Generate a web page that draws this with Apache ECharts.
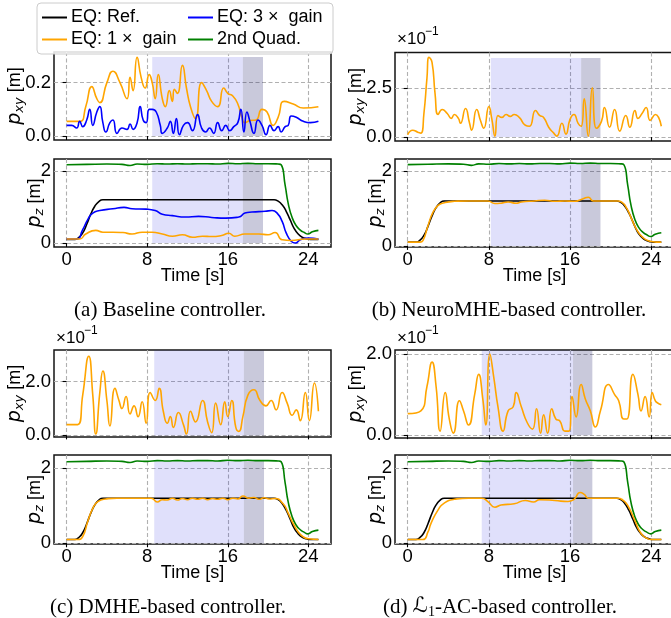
<!DOCTYPE html>
<html><head><meta charset="utf-8">
<script src="https://cdn.jsdelivr.net/npm/echarts@6/dist/echarts.min.js"></script>
<style>html,body{margin:0;padding:0;background:#fff}#c{width:671px;height:618px}</style>
</head><body><div id="c"></div><script>
// ---------- data ----------
const X_TICKS = [0, 8, 16, 24];
const Z_TICKS = [0, 2];
const XY_TICKS_A = [0, 0.2];
const XY_TICKS_B = [0, 2.5];
const XY_TICKS_C = [0, 2];
const XY_TICKS_D = [0, 2];

const T_REF = [0, 0.8, 1.2, 1.6, 2.0, 2.4, 2.8, 3.2, 3.6, 4.0, 20.6, 21.0, 21.4, 21.8, 22.2, 22.6, 23.0, 23.4, 23.8, 24.2, 25];
const V_REF = [0.1, 0.1, 0.15, 0.28, 0.52, 0.8, 1.02, 1.15, 1.2, 1.2, 1.2, 1.16, 1.06, 0.88, 0.64, 0.4, 0.25, 0.16, 0.12, 0.1, 0.1];

const T_GREEN = [0, 2, 4, 5.5, 6.3, 7, 8, 9, 10, 11, 12, 13, 14, 15, 16, 17, 18, 19, 20, 21, 21.3, 21.7, 22.0, 22.4, 22.8, 23.2, 23.6, 23.95, 24.4, 25];
const V_GREEN = [2.17, 2.18, 2.19, 2.18, 2.15, 2.19, 2.18, 2.2, 2.19, 2.2, 2.19, 2.2, 2.2, 2.19, 2.21, 2.2, 2.21, 2.2, 2.2, 2.19, 2.17, 1.6, 1.1, 0.7, 0.48, 0.36, 0.29, 0.25, 0.31, 0.35];

// (a) baseline
const T_A_XY_1X = [0, 1.3, 1.9, 2.5, 3.0, 3.3, 4.0, 4.6, 5.3, 6.0, 6.3, 6.6, 7.0, 7.4, 7.8, 8.2, 8.5, 8.8, 9.1, 9.5, 9.8, 10.2, 10.5, 10.7, 11.0, 11.5, 11.9, 12.3, 12.8, 13.4, 13.9, 14.4, 15.0, 15.6, 16.0, 16.5, 17.0, 17.4, 17.7, 18.2, 18.8, 19.4, 19.9, 20.5, 21.0, 21.6, 22.5, 23.5, 25];
const V_A_XY_1X = [0.055, 0.055, 0.11, 0.185, 0.14, 0.125, 0.2, 0.243, 0.2, 0.14, 0.22, 0.17, 0.295, 0.22, 0.18, 0.23, 0.2, 0.14, 0.23, 0.14, 0.11, 0.17, 0.13, 0.175, 0.16, 0.265, 0.18, 0.11, 0.065, 0.2, 0.17, 0.13, 0.11, 0.18, 0.16, 0.15, 0.12, 0.07, 0.05, 0.058, 0.06, 0.1, 0.09, 0.04, 0.07, 0.13, 0.12, 0.105, 0.11];
const T_A_XY_3X = [0, 0.5, 1.0, 1.3, 1.6, 2.0, 2.3, 2.6, 3.0, 3.3, 3.6, 3.9, 4.3, 4.6, 5.0, 5.5, 6.0, 6.3, 6.6, 7.0, 7.3, 7.6, 7.9, 8.2, 8.5, 8.9, 9.3, 9.5, 10.0, 10.3, 10.6, 10.9, 11.2, 11.6, 12.0, 12.5, 13.0, 13.4, 13.8, 14.2, 14.6, 15.0, 15.4, 15.8, 16.2, 16.6, 17.0, 17.3, 17.6, 17.9, 18.2, 18.6, 19.0, 19.4, 19.8, 20.2, 20.6, 21.0, 21.3, 21.7, 22.0, 22.3, 22.8, 23.5, 24.2, 25];
const V_A_XY_3X = [0.04, 0.04, 0.03, 0.055, 0.035, 0.06, 0.1, 0.04, 0.09, 0.11, 0.05, 0.015, 0.05, 0.06, 0.01, 0.03, 0.025, 0.045, 0.025, 0.05, 0.11, 0.06, 0.05, 0.1, 0.1, 0.09, 0.04, 0.01, 0.03, 0.055, 0.01, 0.065, 0.005, 0.04, 0.05, 0.02, 0.08, 0.03, 0.015, 0.03, 0.01, 0.05, 0.02, 0.04, 0.02, 0.035, 0.05, 0.1, 0.015, 0.09, 0.055, 0.01, 0.06, 0.04, 0.005, 0.04, 0.02, 0.035, 0.015, 0.035, 0.04, 0.075, 0.07, 0.055, 0.05, 0.055];
const T_A_Z_1X = [0, 1.3, 1.9, 2.9, 3.6, 4.6, 5.6, 6.5, 7.5, 8.5, 9.5, 10.5, 11.5, 12.5, 13.5, 14.4, 15.4, 16.1, 16.7, 17.7, 19.1, 20.0, 20.7, 21.4, 22.3, 23.7, 25];
const V_A_Z_1X = [0.11, 0.11, 0.25, 0.35, 0.3, 0.3, 0.29, 0.25, 0.3, 0.3, 0.25, 0.19, 0.23, 0.16, 0.19, 0.18, 0.21, 0.27, 0.19, 0.25, 0.25, 0.23, 0.29, 0.09, 0.07, 0.11, 0.11];
const T_A_Z_3X = [0, 1.0, 1.6, 2.1, 2.6, 3.3, 4.6, 5.7, 6.5, 7.9, 8.8, 9.5, 10.5, 11.8, 13.1, 14.4, 15.8, 17.1, 17.7, 18.4, 19.7, 20.4, 20.9, 21.4, 21.8, 22.3, 22.7, 23.2, 24.0, 25];
const V_A_Z_3X = [0.11, 0.11, 0.37, 0.65, 0.83, 0.9, 0.95, 0.99, 0.95, 0.94, 0.9, 0.8, 0.76, 0.72, 0.74, 0.71, 0.69, 0.72, 0.83, 0.86, 0.88, 0.9, 0.83, 0.6, 0.28, 0.05, 0.0, 0.09, 0.14, 0.11];

// (b) NeuroMHE (pxy in 1e-1 m)
const T_B_XY = [0, 0.5, 1.0, 1.3, 1.6, 1.9, 2.1, 2.4, 2.7, 3.0, 3.4, 3.9, 4.3, 4.6, 5.0, 5.2, 5.7, 6.1, 6.3, 6.8, 7.2, 7.5, 8.0, 8.3, 8.6, 8.9, 9.3, 9.7, 10.1, 10.5, 11.0, 11.6, 12.0, 12.6, 13.0, 13.4, 13.9, 14.4, 14.7, 15.2, 15.6, 16.0, 16.4, 16.8, 17.1, 17.4, 17.8, 18.2, 18.6, 19.1, 19.4, 19.9, 20.4, 20.9, 21.5, 21.9, 22.4, 22.7, 23.1, 23.5, 23.9, 24.4, 25];
const V_B_XY = [0.12, 0.35, 0.25, 0.2, 1.2, 3.0, 4.05, 3.8, 2.2, 1.15, 1.4, 1.2, 0.95, 1.15, 0.95, 0.7, 1.45, 0.7, 0.35, 1.4, 0.8, 0.45, 1.55, 0.9, 0.05, 1.1, 1.0, 1.15, 1.05, 1.15, 1.0, 0.6, 0.55, 1.35, 1.1, 1.0, 0.5, 0.2, 0.05, 0.7, 0.15, 0.9, 1.15, 0.7, 0.55, 1.95, 0.05, 2.5, 0.45, 0.8, 1.5, 0.5, 1.4, 0.3, 1.1, 0.5, 1.35, 0.95, 1.2, 1.5, 0.85, 1.15, 0.55];
const T_B_Z = [0, 1.2, 1.5, 2.0, 2.5, 3.0, 3.6, 4.6, 6, 7.9, 8.6, 9.2, 9.9, 10.7, 11.2, 12.5, 13.5, 14.5, 15.5, 16.4, 17.3, 17.8, 18.3, 19, 20.7, 21.1, 21.6, 22.1, 22.6, 23.2, 23.8, 24.5, 25];
const V_B_Z = [0.1, 0.1, 0.14, 0.54, 0.9, 1.08, 1.15, 1.19, 1.2, 1.2, 1.13, 1.14, 1.17, 1.14, 1.17, 1.2, 1.22, 1.19, 1.2, 1.19, 1.26, 1.3, 1.2, 1.2, 1.2, 1.17, 1.0, 0.7, 0.42, 0.22, 0.13, 0.1, 0.1];

// (c) DMHE (pxy in 1e-1 m)
const T_C_XY = [0, 1.1, 1.6, 2.2, 2.6, 2.9, 3.3, 3.6, 4.0, 4.3, 4.8, 5.2, 5.5, 5.9, 6.3, 6.7, 7.1, 7.5, 7.9, 8.3, 8.8, 9.2, 9.6, 10.0, 10.3, 10.6, 11.1, 11.6, 11.9, 12.3, 12.8, 13.5, 14.0, 14.4, 14.8, 15.3, 15.7, 16.0, 16.4, 16.8, 17.1, 17.5, 18.0, 18.6, 19.2, 19.8, 20.3, 20.8, 21.4, 21.9, 22.4, 22.8, 23.2, 23.7, 24.1, 24.6, 25];
const V_C_XY = [0.4, 0.4, 1.5, 2.95, 1.5, 0.05, 1.6, 2.4, 1.3, 0.35, 1.75, 1.3, 1.0, 1.45, 0.8, 1.1, 0.7, 1.25, 0.45, 1.6, 1.3, 1.75, 0.9, 0.45, 0.7, 0.3, 0.85, 0.4, 0.05, 0.9, 0.5, 1.3, 0.5, 0.1, 1.2, 0.4, 1.25, 0.7, 1.3, 0.3, 0.15, 0.7, 1.5, 1.7, 1.3, 1.1, 1.3, 0.95, 1.6, 1.2, 0.75, 0.95, 0.55, 1.6, 0.55, 1.95, 0.9];
const T_C_Z = [0, 1.1, 1.6, 2.1, 2.6, 3.1, 3.9, 5, 8.4, 9.0, 9.5, 10.0, 10.5, 11, 11.5, 12, 12.5, 13, 13.5, 14, 14.5, 15, 15.5, 16, 16.5, 17, 17.5, 18.1, 18.6, 19.1, 19.6, 20.1, 20.7, 21.5, 22.0, 22.5, 23.0, 23.5, 24, 25];
const V_C_Z = [0.1, 0.1, 0.18, 0.58, 0.93, 1.11, 1.18, 1.2, 1.2, 1.1, 1.16, 1.15, 1.2, 1.15, 1.19, 1.16, 1.2, 1.17, 1.2, 1.16, 1.19, 1.17, 1.2, 1.16, 1.2, 1.18, 1.26, 1.2, 1.22, 1.17, 1.21, 1.18, 1.19, 1.05, 0.8, 0.52, 0.3, 0.17, 0.12, 0.1];

// (d) L1-AC (pxy in 1e-1 m)
const T_D_XY = [0, 1.3, 1.9, 2.4, 2.8, 3.2, 3.7, 4.1, 4.5, 5.1, 5.5, 6.0, 6.6, 7.0, 7.4, 7.7, 8.1, 8.5, 8.9, 9.4, 9.9, 10.4, 10.7, 11.2, 11.8, 12.3, 12.7, 13.1, 13.4, 13.8, 14.2, 14.6, 15.0, 15.5, 15.9, 16.2, 16.6, 17.1, 17.5, 18.0, 18.5, 19.0, 19.8, 20.4, 20.8, 21.3, 21.6, 22.2, 22.7, 23.0, 23.4, 23.8, 24.1, 24.4, 24.6, 25];
const V_D_XY = [0.53, 0.6, 1.2, 1.8, 1.2, 0.1, 1.05, 0.4, 0.05, 0.85, 0.6, 0.25, 1.0, 1.5, 0.9, 0.25, 2.0, 1.4, 0.7, 0.1, 0.6, 0.7, 1.05, 0.7, 0.3, 0.15, 0.65, 0.05, 0.5, 0.05, 0.65, 0.4, 0.35, 0.1, 0.1, 0.95, 0.45, 1.25, 0.9, 0.6, 0.2, 0.6, 1.25, 1.0, 0.85, 0.4, 0.4, 1.5, 1.0, 0.6, 0.95, 0.45, 1.05, 0.85, 0.8, 0.75];
const T_D_Z = [0, 1.5, 2.0, 2.3, 3.0, 3.6, 4.6, 6, 7.3, 7.9, 8.6, 9.2, 10.5, 11.6, 12.4, 13.0, 14.5, 15.8, 16.4, 17.0, 17.4, 17.8, 18.5, 20.7, 21.2, 21.7, 22.4, 22.8, 23.2, 23.6, 24, 25];
const V_D_Z = [0.1, 0.1, 0.3, 0.53, 0.89, 1.07, 1.17, 1.2, 1.2, 1.11, 0.96, 1.02, 1.05, 1.14, 1.1, 1.16, 1.14, 1.11, 1.17, 1.35, 1.3, 1.2, 1.2, 1.2, 1.15, 1.0, 0.6, 0.35, 0.2, 0.13, 0.1, 0.1];

// disturbance windows [light start, dark start, dark end] (s)
const WIN_A = [8.5, 17.5, 19.5];
const WIN_B = [8.2, 17.1, 19.0];
const WIN_C = [8.7, 17.6, 19.6];
const WIN_D = [7.3, 16.3, 18.2];

const NAME_REF = 'EQ: Ref.';
const NAME_1X = 'EQ: 1 \u00d7  gain';
const NAME_3X = 'EQ: 3 \u00d7  gain';
const NAME_2Q = '2nd Quad.';

// ---------- chart ----------
const FONT = 'Liberation Sans';
const C_OR = '#FFA500', C_BL = '#0000FF', C_GR = '#008000', C_BK = '#000000';
const zip = (t, v) => t.map((x, i) => [x, v[i]]);

const grids = [
  {left: 54, top: 52, width: 277, height: 88},
  {left: 54, top: 159, width: 277, height: 88},
  {left: 395, top: 52.5, width: 279, height: 88.5},
  {left: 395, top: 159, width: 279, height: 88},
  {left: 54, top: 350, width: 277, height: 87},
  {left: 54, top: 455, width: 277, height: 89},
  {left: 395, top: 350, width: 279, height: 88},
  {left: 395, top: 455, width: 279, height: 89}
].map(g => Object.assign({show: true, borderColor: '#151515', borderWidth: 1.5, backgroundColor: 'transparent', containLabel: false, outerBoundsMode: 'none'}, g));

const panels = [
  {ymin: -0.015, ymax: 0.315, ticks: XY_TICKS_A, dec: 1, z: false, win: WIN_A, shadeTop: 0.296},
  {ymin: -0.11, ymax: 2.33, ticks: Z_TICKS, dec: 0, z: true, win: WIN_A, shadeTop: 2.2},
  {ymin: -0.2, ymax: 4.3, ticks: XY_TICKS_B, dec: 1, z: false, win: WIN_B, shadeTop: 4.02},
  {ymin: -0.03, ymax: 2.32, ticks: Z_TICKS, dec: 0, z: true, win: WIN_B, shadeTop: 2.2},
  {ymin: -0.06, ymax: 3.18, ticks: XY_TICKS_C, dec: 1, z: false, win: WIN_C, shadeTop: 3.16},
  {ymin: -0.02, ymax: 2.35, ticks: Z_TICKS, dec: 0, z: true, win: WIN_C, shadeTop: 2.2},
  {ymin: -0.07, ymax: 2.1, ticks: XY_TICKS_D, dec: 1, z: false, win: WIN_D, shadeTop: 2.09},
  {ymin: -0.02, ymax: 2.35, ticks: Z_TICKS, dec: 0, z: true, win: WIN_D, shadeTop: 2.2}
];

const gridLine = {show: true, lineStyle: {color: '#b0b0b0', type: [4, 2.5], width: 1.1}};
const tickStyle = {show: true, length: 4, inside: false, lineStyle: {color: '#000', width: 1.1}};
const labelStyle = {color: '#000', fontSize: 18.5, fontFamily: FONT};

const xAxes = panels.map((p, i) => ({
  type: 'value', gridIndex: i, min: -1.25, max: 26.25,
  axisLine: {show: false},
  axisTick: Object.assign({customValues: X_TICKS}, tickStyle),
  axisLabel: Object.assign({show: p.z, customValues: X_TICKS, margin: 3}, labelStyle),
  splitLine: gridLine,
  name: p.z ? 'Time [s]' : '', nameLocation: 'middle', nameGap: 20.5, nameMoveOverlap: false,
  nameTextStyle: {color: '#000', fontSize: 18, fontFamily: FONT}
}));

const yAxes = panels.map((p, i) => ({
  type: 'value', gridIndex: i, min: p.ymin, max: p.ymax,
  axisLine: {show: false},
  axisTick: Object.assign({customValues: p.ticks}, tickStyle),
  axisLabel: Object.assign({customValues: p.ticks, margin: 3, formatter: v => v.toFixed(p.dec)}, labelStyle),
  splitLine: gridLine,
  name: p.z ? '{p|p}{s|z}{n| [m]}' : '{p|p}{s|xy}{n| [m]}',
  nameLocation: 'middle', nameRotate: 90, nameGap: p.z ? 8 : 28, nameMoveOverlap: false,
  nameTextStyle: {
    color: '#000', fontSize: 18, fontFamily: FONT,
    rich: {
      p: {fontSize: 19, fontStyle: 'italic', fontFamily: 'DejaVu Sans', lineHeight: 22, color: '#000'},
      s: {fontSize: 13, fontStyle: 'italic', fontFamily: 'DejaVu Sans', lineHeight: 12, verticalAlign: 'bottom', color: '#000'},
      n: {fontSize: 18, fontFamily: FONT, lineHeight: 22, color: '#000'}
    }
  }
}));

function line(name, color, t, v, gi, z) {
  return {
    type: 'line', name: name, xAxisIndex: gi, yAxisIndex: gi, data: zip(t, v),
    showSymbol: false, symbol: 'none', smooth: 0.55, z: z || 3,
    lineStyle: {color: color, width: 1.6}, itemStyle: {color: color},
    emphasis: {disabled: true}, animation: false
  };
}
function shade(gi) {
  const p = panels[gi], w = p.win;
  return {
    type: 'line', xAxisIndex: gi, yAxisIndex: gi, data: [], silent: true, z: 1, animation: false,
    markArea: {
      silent: true, animation: false,
      data: [
        [{xAxis: w[0], yAxis: 0, itemStyle: {color: 'rgba(0,0,220,0.12)', borderWidth: 0}}, {xAxis: w[1], yAxis: p.shadeTop}],
        [{xAxis: w[1], yAxis: 0, itemStyle: {color: 'rgba(10,10,90,0.22)', borderWidth: 0}}, {xAxis: w[2], yAxis: p.shadeTop}]
      ]
    }
  };
}

const series = [];
for (let i = 0; i < 8; i++) series.push(shade(i));
// (a)
series.push(line(NAME_1X, C_OR, T_A_XY_1X, V_A_XY_1X, 0));
series.push(line(NAME_3X, C_BL, T_A_XY_3X, V_A_XY_3X, 0));
series.push(line(NAME_2Q, C_GR, T_GREEN, V_GREEN, 1));
series.push(line(NAME_REF, C_BK, T_REF, V_REF, 1));
series.push(line(NAME_3X, C_BL, T_A_Z_3X, V_A_Z_3X, 1));
series.push(line(NAME_1X, C_OR, T_A_Z_1X, V_A_Z_1X, 1));
// (b)
series.push(line(NAME_1X, C_OR, T_B_XY, V_B_XY, 2));
series.push(line(NAME_2Q, C_GR, T_GREEN, V_GREEN, 3));
series.push(line(NAME_REF, C_BK, T_REF, V_REF, 3));
series.push(line(NAME_1X, C_OR, T_B_Z, V_B_Z, 3));
// (c)
series.push(line(NAME_1X, C_OR, T_C_XY, V_C_XY, 4));
series.push(line(NAME_2Q, C_GR, T_GREEN, V_GREEN, 5));
series.push(line(NAME_REF, C_BK, T_REF, V_REF, 5));
series.push(line(NAME_1X, C_OR, T_C_Z, V_C_Z, 5));
// (d)
series.push(line(NAME_1X, C_OR, T_D_XY, V_D_XY, 6));
series.push(line(NAME_2Q, C_GR, T_GREEN, V_GREEN, 7));
series.push(line(NAME_REF, C_BK, T_REF, V_REF, 7));
series.push(line(NAME_1X, C_OR, T_D_Z, V_D_Z, 7));

const legendBase = {
  orient: 'vertical', top: 8.5, itemWidth: 25, itemHeight: 2, itemGap: 4, icon: 'rect',
  selectedMode: false, z: 60, padding: 0,
  textStyle: {color: '#000', fontSize: 18, fontFamily: FONT, padding: [0, 0, 0, -1]}
};

const txt = (x, y, text, size, family, align) => ({
  type: 'text', x: x, y: y, z: 70,
  style: {text: text, fontSize: size, fontFamily: family, fill: '#000', align: align || 'left', verticalAlign: 'middle'}
});

const graphics = [
  {type: 'rect', z: 50, shape: {x: 37, y: 3, width: 296, height: 51, r: 4},
   style: {fill: 'rgba(255,255,255,0.85)', stroke: '#cccccc', lineWidth: 1}},
  txt(397, 39, '\u00d710', 17, FONT), txt(425, 32, '\u22121', 12, FONT),
  txt(56, 338, '\u00d710', 17, FONT), txt(84, 331, '\u22121', 12, FONT),
  txt(397, 338, '\u00d710', 17, FONT), txt(425, 331, '\u22121', 12, FONT),
  txt(170, 310, '(a) Baseline controller.', 21, 'Liberation Serif', 'center'),
  txt(509, 310, '(b) NeuroMHE-based controller.', 21, 'Liberation Serif', 'center'),
  txt(168, 607, '(c) DMHE-based controller.', 21, 'Liberation Serif', 'center'),
  {type: 'text', x: 500, y: 607, z: 70,
   style: {text: '(d) {l|\u2112}{s|1}-AC-based controller.', fontSize: 21, fontFamily: 'Liberation Serif', fill: '#000',
     align: 'center', verticalAlign: 'middle',
     rich: {l: {fontSize: 21, fontFamily: 'DejaVu Sans', fontStyle: 'italic', lineHeight: 24},
            s: {fontSize: 14, fontFamily: 'Liberation Serif', verticalAlign: 'bottom', lineHeight: 14}}}}
];

const chart = echarts.init(document.getElementById('c'), null, {renderer: 'canvas'});
chart.setOption({
  animation: false,
  backgroundColor: '#ffffff',
  grid: grids,
  xAxis: xAxes,
  yAxis: yAxes,
  legend: [
    Object.assign({}, legendBase, {left: 42, data: [NAME_REF, NAME_1X]}),
    Object.assign({}, legendBase, {left: 188, data: [NAME_3X, NAME_2Q]})
  ],
  graphic: graphics,
  series: series
});
</script></body></html>
